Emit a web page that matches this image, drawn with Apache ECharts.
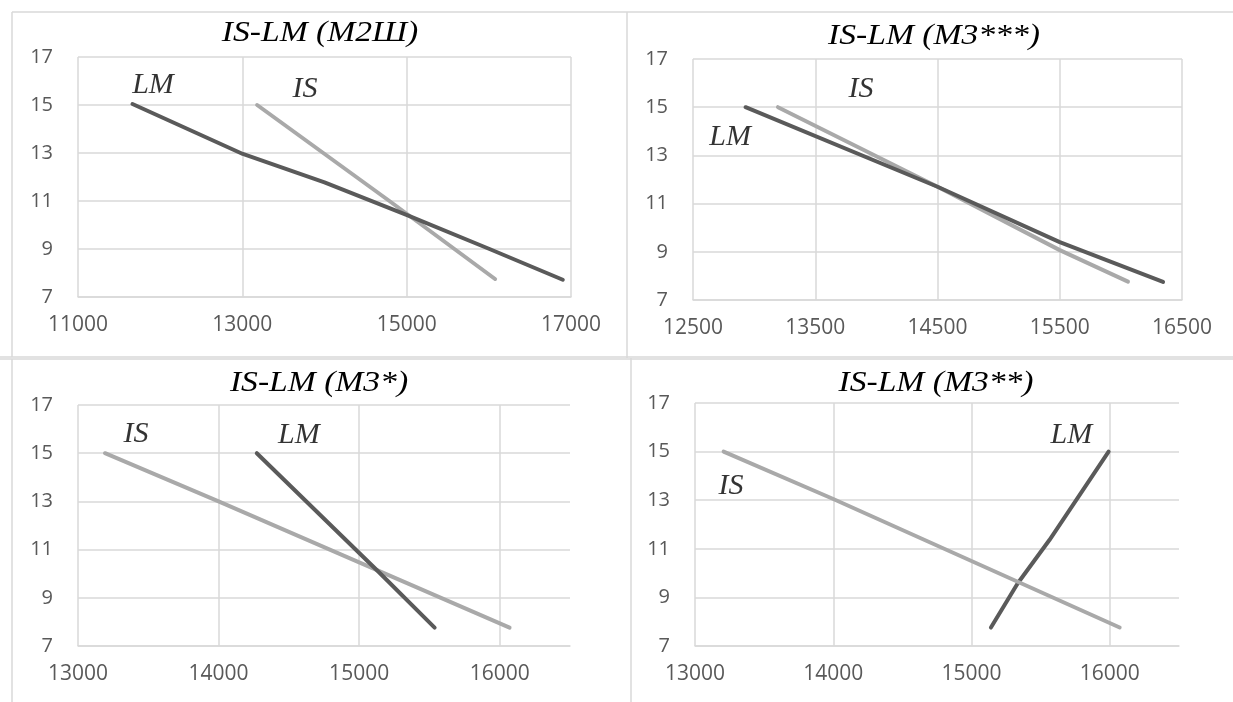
<!DOCTYPE html>
<html>
<head>
<meta charset="utf-8">
<script src="https://cdn.jsdelivr.net/npm/echarts@6.0.0/dist/echarts.min.js"></script>
<style>
html,body{margin:0;padding:0;background:#fff;}
#chart{width:1233px;height:702px;}
</style>
</head>
<body>
<div id="chart"></div>
<script>
// ---- Data ----
const titles = ['IS-LM (M2Ш)', 'IS-LM (M3***)', 'IS-LM (M3*)', 'IS-LM (M3**)'];

// Panel 1: IS-LM (M2Ш)
const lmM2Sh = [[11663, 15.04], [13006, 12.96], [14000, 11.78], [14998, 10.42], [16008, 9], [16900, 7.72]];
const isM2Sh = [[13180, 15], [14790, 11], [16076, 7.75]];
// Panel 2: IS-LM (M3***)
const lmM3c = [[12930, 15], [14500, 11.7], [15500, 9.4], [16345, 7.75]];
const isM3c = [[13195, 15], [14500, 11.7], [15500, 9.07], [16058, 7.76]];
// Panel 3: IS-LM (M3*)
const lmM3a = [[14272, 15], [15143, 10.05], [15537, 7.76]];
const isM3a = [[13192, 15], [14000, 13], [16070, 7.76]];
// Panel 4: IS-LM (M3**)
const lmM3b = [[15140, 7.76], [15334, 9.58], [15563, 11.36], [15991, 15]];
const isM3b = [[13207, 15], [14000, 13.05], [16071, 7.76]];

// x axis ranges / steps per panel
const xMins = [11000, 12500, 13000, 13000];
const xMaxs = [17000, 16500, 16500, 16500];
const xSteps = [2000, 1000, 1000, 1000];
// y axis range / step (all panels)
const yMin = 7, yMax = 17, yStep = 2;

// curve name annotations [x, y, text]
const notes1 = [[11913, 15.83, 'LM'], [13763, 15.67, 'IS']];
const notes2 = [[13874, 15.76, 'IS'], [12803, 13.76, 'LM']];
const notes3 = [[13412, 15.8, 'IS'], [14571, 15.76, 'LM']];
const notes4 = [[13260, 13.58, 'IS'], [15722, 15.68, 'LM']];

// ---- Layout / style ----
const grids = [
  {left: 78, top: 57, width: 493, height: 240},
  {left: 693, top: 59, width: 489, height: 241},
  {left: 78, top: 405, width: 492, height: 241},
  {left: 695, top: 403, width: 484, height: 243}
];
const titlePos = [[320, 33], [934, 36], [319, 383], [936, 383]];
const showMaxX = [true, true, false, false];
const lmData = [lmM2Sh, lmM3c, lmM3a, lmM3b];
const isData = [isM2Sh, isM3c, isM3a, isM3b];
const notes = [notes1, notes2, notes3, notes4];
const isOnTop = [false, false, false, true];

const LM_COLOR = '#5a5a5a';
const IS_COLOR = '#a9a9a9';
const GRID_COLOR = '#d9d9d9';
const LABEL_COLOR = '#595959';
const serif = '"Liberation Serif", "DejaVu Serif", serif';
const sans = '"Open Sans", "Liberation Sans", sans-serif';

const xAxis = [], yAxis = [], series = [];
for (let i = 0; i < 4; i++) {
  xAxis.push({
    type: 'value', gridIndex: i, min: xMins[i], max: xMaxs[i], interval: xSteps[i],
    axisLine: {show: true, lineStyle: {color: GRID_COLOR, width: 1.5}},
    axisTick: {show: false},
    axisLabel: {color: LABEL_COLOR, fontFamily: sans, fontSize: 21, margin: 18, showMaxLabel: showMaxX[i],
      formatter: v => String(v)},
    splitLine: {show: true, showMaxLine: showMaxX[i], lineStyle: {color: GRID_COLOR, width: 1.5}}
  });
  yAxis.push({
    type: 'value', gridIndex: i, min: yMin, max: yMax, interval: yStep,
    axisLine: {show: false}, axisTick: {show: false},
    axisLabel: {color: LABEL_COLOR, fontFamily: sans, fontSize: 20, margin: 25, formatter: v => String(v)},
    splitLine: {show: true, lineStyle: {color: GRID_COLOR, width: 1.5}}
  });
  const lm = {
    type: 'line', name: 'LM', xAxisIndex: i, yAxisIndex: i, data: lmData[i],
    symbol: 'none', smooth: false, z: isOnTop[i] ? 2 : 3,
    lineStyle: {color: LM_COLOR, width: 4, cap: 'round', join: 'round'}
  };
  const is = {
    type: 'line', name: 'IS', xAxisIndex: i, yAxisIndex: i, data: isData[i],
    symbol: 'none', smooth: false, z: isOnTop[i] ? 3 : 2,
    lineStyle: {color: IS_COLOR, width: 4, cap: 'round', join: 'round'}
  };
  series.push(lm, is);
  series.push({
    type: 'scatter', xAxisIndex: i, yAxisIndex: i, data: notes[i], symbolSize: 0, silent: true, z: 5,
    label: {show: true, position: 'inside', formatter: p => p.data[2],
      fontFamily: serif, fontStyle: 'italic', fontSize: 30, color: '#000'}
  });
}

const graphic = [];
for (let i = 0; i < 4; i++) {
  graphic.push({type: 'text', x: titlePos[i][0], y: titlePos[i][1], z: 10, scaleX: 1.12,
    style: {text: titles[i], font: 'italic 30px ' + serif, fill: '#000', align: 'center', verticalAlign: 'middle'}});
}
// page frame lines
const frame = [
  [12, 12, 1233, 12], [12, 12, 12, 357], [627, 12, 627, 358],
  [0, 357, 1233, 357], [0, 359, 1233, 359],
  [12, 359, 12, 702], [631, 358, 631, 702]
];
frame.forEach(s => graphic.push({type: 'line', shape: {x1: s[0], y1: s[1], x2: s[2], y2: s[3]},
  style: {stroke: GRID_COLOR, lineWidth: 1.5}, silent: true}));

const chart = echarts.init(document.getElementById('chart'), null, {renderer: 'canvas'});
chart.setOption({
  animation: false,
  backgroundColor: '#fff',
  grid: grids,
  xAxis, yAxis, series, graphic
});
</script>
</body>
</html>
